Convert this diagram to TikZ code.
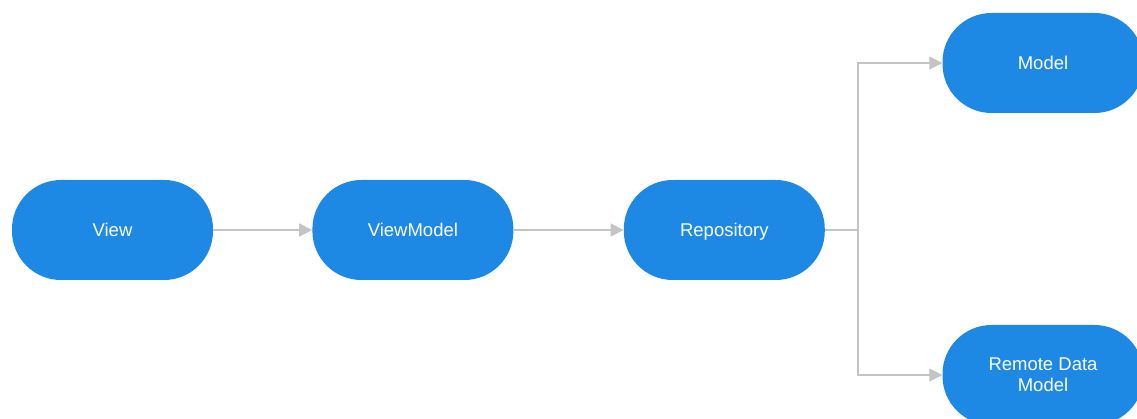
\documentclass[tikz,border=0pt]{standalone}
\usepackage{fontspec}
\setmainfont{Liberation Sans}
\usetikzlibrary{positioning,arrows.meta}
\definecolor{pillblue}{HTML}{1E88E5}
\definecolor{linkgrey}{HTML}{C4C4C4}

\begin{document}
\begin{tikzpicture}[
      x=1pt, y=-1pt,
      node distance=99pt,
      pill/.style={
        rectangle, fill=pillblue, rounded corners=49pt,
        text=white, align=center,
        minimum width=201pt, minimum height=100pt,
        font=\fontsize{18.5}{21}\selectfont
      },
      link/.style={
        draw=linkgrey, line width=1.3pt,
        -{Triangle[length=13pt,width=13pt]}
      }
    ]
    \useasboundingbox (0,0) rectangle (1137,419);

    % main row
    \node[pill] (view) at (112.5,230) {View};
    \node[pill, right=of view] (vm) {ViewModel};
    \node[pill, right=110pt of vm] (repo) {\vphantom{V}\smash{Repository}};

    % data sources
    \node[pill] (model) at (1043,63) {Model};
    \node[pill] (remote) at (1043,375) {Remote Data\\Model};

    \draw[link] (view) -- (vm);
    \draw[link] (vm) -- (repo);

    % fork out of the repository
    \coordinate[right=33pt of repo.east] (fork);
    \draw[draw=linkgrey, line width=1.3pt] (repo.east) -- (fork);
    \draw[link] (fork) |- (model.west);
    \draw[link] (fork) |- (remote.west);
\end{tikzpicture}
\end{document}
